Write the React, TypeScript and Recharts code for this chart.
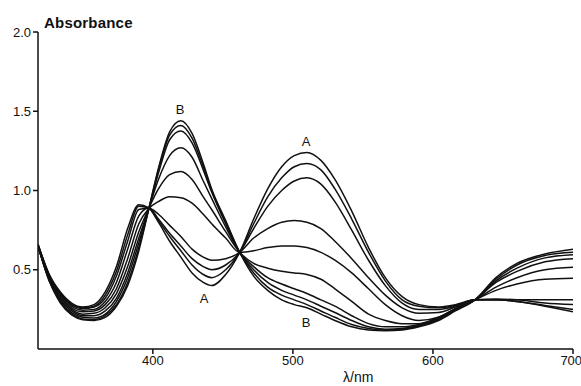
import { LineChart, Line, XAxis, YAxis, ReferenceDot } from 'recharts';

// wavelength grid (nm)
const wavelengths = [
    318, 326, 334, 342, 350, 358, 366, 374, 382, 390, 397, 404, 412, 420, 428, 436, 442, 452, 462,
    472, 482, 492, 501, 510, 520, 530, 542, 554, 566, 578, 590, 604, 616, 630, 645, 660, 680, 700,
];

// spectra, from the "A" end to the "B" end
const specA1 = [0.66, 0.47, 0.36, 0.29, 0.265, 0.28, 0.36, 0.52, 0.76, 0.91, 0.89, 0.80, 0.68, 0.58, 0.48, 0.42, 0.40, 0.47, 0.61, 0.82, 1.01, 1.15, 1.22, 1.24, 1.19, 1.07, 0.87, 0.64, 0.45, 0.33, 0.28, 0.265, 0.28, 0.31, 0.31, 0.30, 0.27, 0.235];
const specA2 = [0.66, 0.47, 0.35, 0.28, 0.26, 0.27, 0.34, 0.49, 0.72, 0.90, 0.89, 0.81, 0.71, 0.62, 0.53, 0.47, 0.45, 0.50, 0.61, 0.79, 0.96, 1.08, 1.15, 1.17, 1.13, 1.01, 0.82, 0.61, 0.43, 0.31, 0.27, 0.26, 0.275, 0.31, 0.31, 0.30, 0.275, 0.25];
const specA3 = [0.66, 0.46, 0.35, 0.28, 0.255, 0.265, 0.32, 0.46, 0.68, 0.88, 0.89, 0.82, 0.73, 0.65, 0.57, 0.52, 0.50, 0.53, 0.61, 0.76, 0.90, 1.00, 1.06, 1.08, 1.04, 0.93, 0.75, 0.56, 0.40, 0.29, 0.25, 0.25, 0.27, 0.31, 0.315, 0.31, 0.29, 0.28];
const specA4 = [0.66, 0.46, 0.34, 0.27, 0.245, 0.25, 0.30, 0.42, 0.63, 0.84, 0.89, 0.85, 0.78, 0.71, 0.63, 0.58, 0.56, 0.57, 0.61, 0.70, 0.76, 0.80, 0.81, 0.80, 0.76, 0.68, 0.57, 0.45, 0.34, 0.26, 0.225, 0.23, 0.265, 0.31, 0.31, 0.31, 0.31, 0.31];
const specM5 = [0.65, 0.45, 0.33, 0.26, 0.235, 0.24, 0.28, 0.38, 0.57, 0.79, 0.885, 0.93, 0.96, 0.955, 0.92, 0.85, 0.79, 0.70, 0.61, 0.62, 0.64, 0.65, 0.65, 0.64, 0.61, 0.56, 0.48, 0.38, 0.28, 0.21, 0.18, 0.20, 0.255, 0.31, 0.37, 0.41, 0.44, 0.446];
const specB6 = [0.65, 0.45, 0.32, 0.25, 0.22, 0.225, 0.26, 0.35, 0.52, 0.74, 0.885, 1.01, 1.10, 1.12, 1.07, 0.96, 0.88, 0.74, 0.61, 0.54, 0.51, 0.49, 0.48, 0.47, 0.44, 0.38, 0.30, 0.22, 0.18, 0.16, 0.16, 0.20, 0.255, 0.31, 0.39, 0.45, 0.50, 0.515];
const specB7 = [0.65, 0.44, 0.31, 0.24, 0.21, 0.21, 0.24, 0.32, 0.48, 0.70, 0.885, 1.07, 1.22, 1.27, 1.21, 1.06, 0.95, 0.77, 0.61, 0.52, 0.45, 0.41, 0.38, 0.35, 0.31, 0.27, 0.21, 0.16, 0.14, 0.14, 0.155, 0.195, 0.25, 0.31, 0.42, 0.49, 0.55, 0.57];
const specB8 = [0.65, 0.44, 0.30, 0.23, 0.20, 0.195, 0.22, 0.30, 0.45, 0.67, 0.88, 1.11, 1.32, 1.375, 1.30, 1.13, 0.99, 0.79, 0.61, 0.50, 0.42, 0.37, 0.34, 0.31, 0.27, 0.23, 0.18, 0.14, 0.125, 0.13, 0.15, 0.19, 0.25, 0.31, 0.43, 0.51, 0.575, 0.595];
const specB9 = [0.65, 0.43, 0.30, 0.22, 0.19, 0.185, 0.21, 0.28, 0.42, 0.64, 0.88, 1.13, 1.35, 1.41, 1.33, 1.15, 1.00, 0.80, 0.61, 0.48, 0.39, 0.34, 0.31, 0.28, 0.24, 0.20, 0.155, 0.13, 0.12, 0.125, 0.145, 0.185, 0.245, 0.31, 0.44, 0.53, 0.59, 0.61];
const specB10 = [0.65, 0.43, 0.29, 0.215, 0.185, 0.18, 0.20, 0.27, 0.40, 0.62, 0.88, 1.14, 1.37, 1.44, 1.36, 1.17, 1.01, 0.81, 0.61, 0.46, 0.37, 0.31, 0.28, 0.26, 0.22, 0.18, 0.14, 0.12, 0.115, 0.12, 0.14, 0.18, 0.24, 0.31, 0.45, 0.54, 0.60, 0.63];

const spectra = [specA1, specA2, specA3, specA4, specM5, specB6, specB7, specB8, specB9, specB10];

const xTicks = [400, 500, 600, 700];
const yTicks = [0.5, 1.0, 1.5, 2.0];

// curve labels: [text, wavelength, absorbance]
const curveLabels: [string, number, number][] = [
    ['B', 419.5, 1.51],
    ['A', 509.5, 1.31],
    ['A', 436.5, 0.32],
    ['B', 509.5, 0.165],
];

const font = '"Liberation Sans", Arial, sans-serif';

export default function App() {
    const rows = wavelengths.map((wl, i) => {
        const row: Record<string, number> = { wl };
        spectra.forEach((s, k) => {
            row['s' + k] = s[i];
        });
        return row;
    });

    const tickStyle = { fill: '#111', fontSize: 13, fontFamily: font };

    return (
        <div style={{ position: 'absolute', left: 0, top: 0, width: 581, height: 386, background: '#fff' }}>
            <LineChart width={581} height={386} data={rows} margin={{ top: 32, right: 8, left: 0, bottom: 0 }}>
                <XAxis
                    dataKey="wl"
                    type="number"
                    domain={[318, 700]}
                    ticks={xTicks}
                    allowDataOverflow
                    height={37}
                    tickSize={5}
                    tickMargin={2}
                    stroke="#111"
                    strokeWidth={1.5}
                    tick={tickStyle}
                />
                <YAxis
                    type="number"
                    domain={[0, 2]}
                    ticks={yTicks}
                    width={38}
                    tickSize={5}
                    tickMargin={2}
                    stroke="#111"
                    strokeWidth={1.5}
                    tick={tickStyle}
                    tickFormatter={(v: number) => v.toFixed(1)}
                />
                {spectra.map((_, k) => (
                    <Line
                        key={k}
                        dataKey={'s' + k}
                        type="monotone"
                        stroke="#111"
                        strokeWidth={1.5}
                        dot={false}
                        isAnimationActive={false}
                    />
                ))}
                {curveLabels.map(([t, x, y], i) => (
                    <ReferenceDot
                        key={i}
                        x={x}
                        y={y}
                        r={0}
                        stroke="none"
                        fill="none"
                        label={{ value: t, position: 'center', fill: '#111', fontSize: 13, fontFamily: font }}
                    />
                ))}
            </LineChart>
            <div
                style={{
                    position: 'absolute',
                    left: 44,
                    top: 15,
                    fontFamily: font,
                    fontWeight: 'bold',
                    fontSize: 15,
                    letterSpacing: 0.2,
                    lineHeight: '15px',
                    color: '#111',
                }}
            >
                Absorbance
            </div>
            <div
                style={{
                    position: 'absolute',
                    left: 343,
                    top: 370,
                    fontFamily: font,
                    fontSize: 14,
                    lineHeight: '14px',
                    color: '#111',
                }}
            >
                λ/nm
            </div>
        </div>
    );
}
